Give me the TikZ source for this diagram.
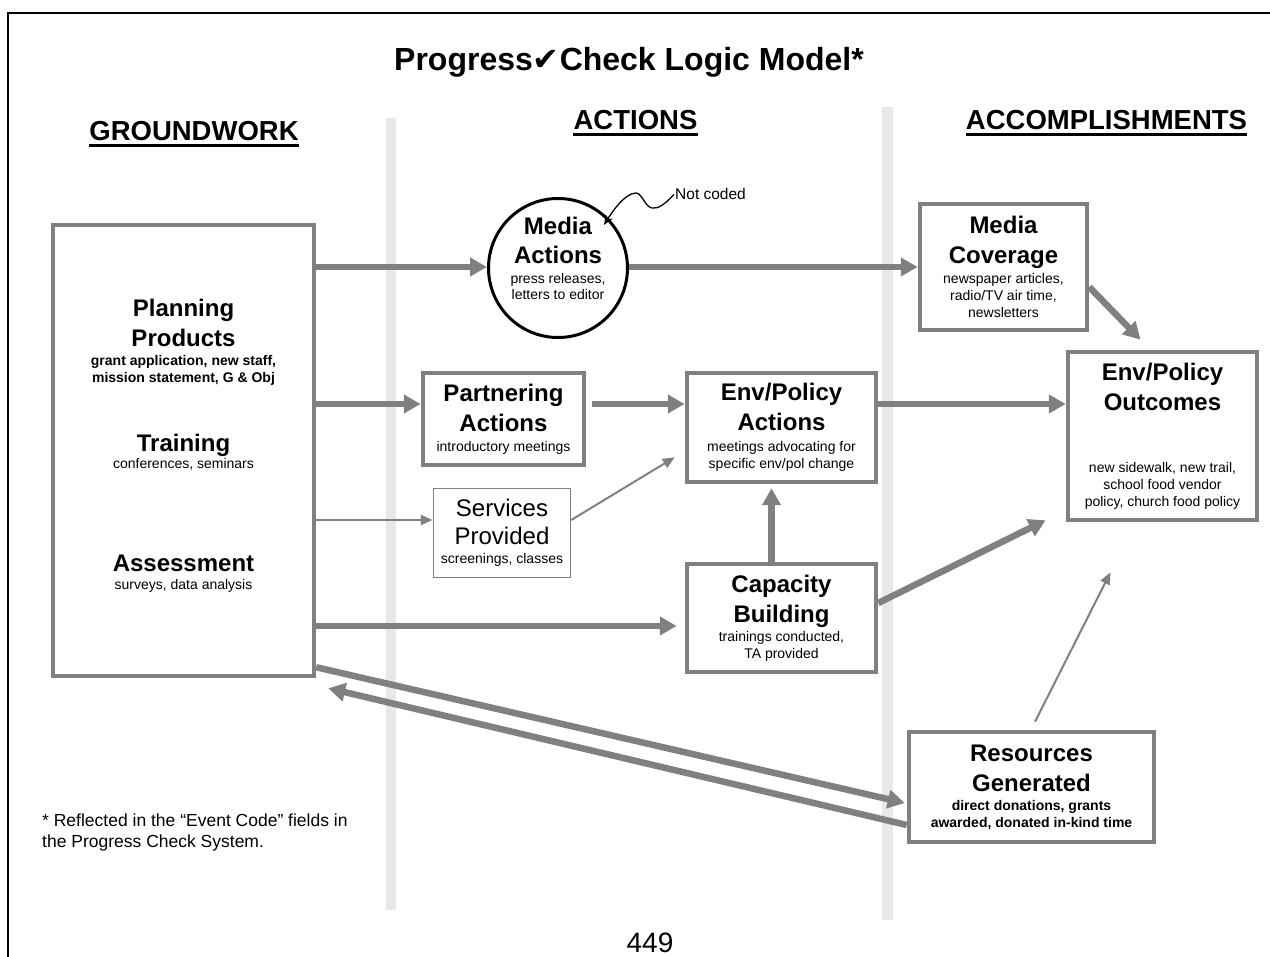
\documentclass[tikz,border=0pt]{standalone}
\usepackage{fontspec}
\setmainfont{Liberation Sans}
\newfontfamily\symbolfont{DejaVu Sans}
\usepackage{tikz}
\usetikzlibrary{arrows.meta}
\definecolor{linegray}{RGB}{128,128,128}
\definecolor{bandgray}{RGB}{232,232,232}
\newcommand{\titlefont}{\fontsize{24}{30}\selectfont\bfseries}
\newcommand{\plainfont}{\fontsize{24}{30}\selectfont\mdseries}
\newcommand{\detail}{\fontsize{14}{17}\selectfont\mdseries}
\newcommand{\detailbf}{\fontsize{14}{17}\selectfont\bfseries}

\begin{document}
\begin{tikzpicture}[x=1pt,y=-1pt,
		box/.style={draw=linegray,line width=4.5pt,align=center,inner sep=0pt,font=\titlefont},
		thickarrow/.style={draw=linegray,line width=6.5pt,-{Triangle[length=17pt,width=18pt]}},
		thinarrow/.style={draw=linegray,line width=2pt,-{Triangle[length=12pt,width=10pt]}},
		heading/.style={anchor=base,inner sep=0pt,font=\fontsize{27.5}{32}\selectfont\bfseries}]
		\useasboundingbox (0,0) rectangle (1270,957);
		% page frame and column bands
		\draw[line width=2pt] (8,990) -- (8,13) -- (1300,13);
		\fill[bandgray] (386,118) rectangle (396,910);
		\fill[bandgray] (882,107) rectangle (893,920);

		\node[anchor=base,inner sep=0pt,font=\fontsize{32}{38}\selectfont\bfseries] (title) at (629,71) {Progress{\symbolfont ✔}Check Logic Model*};
		\node[heading] (gw) at (194,141) {GROUNDWORK};
		\node[heading] (act) at (635.5,130) {ACTIONS};
		\node[heading] (acc) at (1106.5,130) {ACCOMPLISHMENTS};
		\foreach \h in {gw,act,acc}
			\draw[line width=2.5pt] ([yshift=-4.5pt]\h.base west) -- ([yshift=-4.5pt]\h.base east);

		% row levels of the straight arrows
		\coordinate (row_a) at (0,267);
		\coordinate (row_b) at (0,404);
		\coordinate (row_c) at (0,520);
		\coordinate (row_d) at (0,626);

		\node[box,minimum width=261pt,minimum height=451pt,text depth=13pt] (ground) at (183.5,450.5) {Planning\\Products\\[-11pt]{\detailbf grant application, new staff,}\\[-13pt]{\detailbf mission statement, G \& Obj}\\[39pt]Training\\[-13pt]{\detail conferences, seminars}\\[73pt]Assessment\\[-12pt]{\detail surveys, data analysis}};
		\node[circle,draw,line width=3pt,minimum size=139pt] (media) at (558,268) {};
		\node[align=center,inner sep=0pt,font=\titlefont] (media_txt) at (558,258) {Media\\[-1pt]Actions\\[-10pt]{\detail press releases,}\\[-14pt]{\detail letters to editor}};
		\node[box,minimum width=161pt,minimum height=92pt] (partner) at (503.5,419) {Partnering\\Actions\\[-10pt]{\detail introductory meetings}};
		\node[box,line width=1.5pt,font=\plainfont,minimum width=137pt,minimum height=89pt] (services) at (502,533) {Services\\[-2pt]Provided\\[-11pt]{\detail screenings, classes}};
		\node[box,minimum width=189pt,minimum height=109pt] (env_act) at (781.5,427.5) {Env/Policy\\Actions\\[-9pt]{\detail meetings advocating for}\\[-13pt]{\detail specific env/pol change}};
		\node[box,minimum width=189pt,minimum height=108pt] (capacity) at (781.5,618) {Capacity\\Building\\[-11pt]{\detail trainings conducted,}\\[-13pt]{\detail TA provided}};
		\node[box,minimum width=167pt,minimum height=126pt] (media_cov) at (1003.5,267) {Media\\Coverage\\[-10pt]{\detail newspaper articles,}\\[-13pt]{\detail radio/TV air time,}\\[-13pt]{\detail newsletters}};
		\node[box,minimum width=189pt,minimum height=168pt] (env_out) at (1162.5,436) {Env/Policy\\Outcomes\\[32pt]{\detail new sidewalk, new trail,}\\[-13pt]{\detail school food vendor}\\[-13pt]{\detail policy, church food policy}};
		\node[box,minimum width=245pt,minimum height=110pt] (resources) at (1031.5,787) {Resources\\Generated\\[-11pt]{\detailbf direct donations, grants}\\[-13pt]{\detailbf awarded, donated in-kind time}};

		\node[font=\fontsize{15.5}{18}\selectfont,inner sep=1pt,anchor=base west] (note) at (674,200) {Not coded};
		\draw[line width=1.3pt,-{Stealth[length=10pt,width=8pt]}] (note.west) .. controls (664,205) and (658,209) .. (652,208) .. controls (645,207) and (642,193) .. (636,193) .. controls (625,193) and (612,212) .. (604,225);

		\draw[thickarrow] (ground.east |- row_a) -- (media.west |- row_a);
		\draw[thickarrow] (media.east |- row_a) -- (media_cov.west |- row_a);
		\draw[thickarrow] (ground.east |- row_b) -- (partner.west |- row_b);
		\draw[thickarrow] ([xshift=6pt]partner.east |- row_b) -- (env_act.west |- row_b);
		\draw[thickarrow] (env_act.east |- row_b) -- (env_out.west |- row_b);
		\draw[thinarrow] (ground.east |- row_c) -- (services.west |- row_c);
		\draw[thinarrow] (services.east |- row_c) -- ([shift={(-10,-27)}]env_act.south west);
		\draw[thickarrow,shorten >=8pt] (ground.east |- row_d) -- (capacity.west |- row_d);
		\draw[thickarrow,shorten >=4pt] ([xshift=-10pt]capacity.north) -- ([xshift=-10pt]env_act.south);
		\draw[thickarrow] ([yshift=15pt]capacity.east) -- ([shift={(-20,-2)}]env_out.south west);
		\draw[thickarrow] ([shift={(0,20)}]media_cov.east) -- ([shift={(-22,-10)}]env_out.north);
		\draw[thinarrow] ([shift={(3.5,-8)}]resources.north) -- ([shift={(-52,50)}]env_out.south);
		\draw[thickarrow] ([shift={(0,-11)}]ground.south east) -- ([shift={(-2,16)}]resources.west);
		\draw[thickarrow] ([shift={(0,38)}]resources.west) -- ([shift={(12,10)}]ground.south east);

		\node[anchor=base west,align=left,inner sep=0pt,font=\fontsize{17.5}{21}\selectfont] (foot) at (42,847) {* Reflected in the “Event Code” fields in\\the Progress Check System.};
		\node[anchor=base,inner sep=0pt,font=\fontsize{28}{34}\selectfont] (page) at (650,952) {449};
	\end{tikzpicture}
\end{document}
